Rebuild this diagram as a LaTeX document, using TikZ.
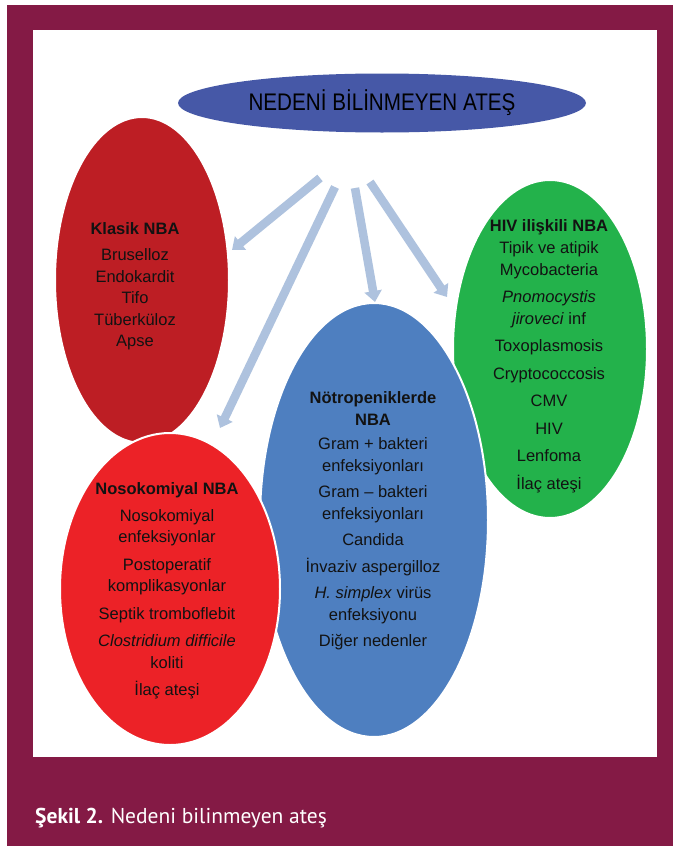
\documentclass[tikz,border=0pt]{standalone}
\usepackage{fontspec}
\setmainfont{Liberation Sans}
\newfontfamily\titlefont[FakeStretch=0.86]{Liberation Sans}
\newfontfamily\capfont{PT Sans}
\usetikzlibrary{arrows.meta,shapes.geometric}
\definecolor{framecol}{HTML}{841A45}
\definecolor{topcol}{HTML}{4658A7}
\definecolor{klasikcol}{HTML}{BD1E24}
\definecolor{nosocol}{HTML}{EC2227}
\definecolor{neutrocol}{HTML}{4E7FC0}
\definecolor{hivcol}{HTML}{23B24B}
\definecolor{arrowcol}{HTML}{AEC2DE}
\tikzset{
  blob/.style={ellipse, draw=white, line width=2pt, inner sep=0pt},
  blobtext/.style={align=center, inner sep=0pt, text=black!93,
    font=\fontsize{16.5}{21.5}\selectfont},
  feed/.style={draw=arrowcol, line width=8.5pt,
    -{Triangle[width=17pt,length=11pt]}}
}
\begin{document}
\begin{tikzpicture}[x=1pt,y=-1pt]
\useasboundingbox (0,0) rectangle (673,846);
% page, frame and inner panel
\fill[white] (0,0) rectangle (673,846);
\fill[framecol] (7,5) rectangle (673,846);
\fill[white] (33,30) rectangle (657,757);

% category ellipses (back to front)
\node[blob, fill=hivcol, minimum width=194pt, minimum height=338pt] (hiv) at (550,349) {};
\node[blob, fill=klasikcol, minimum width=174pt, minimum height=326pt] (klasik) at (142,280) {};
\node[blob, fill=neutrocol, minimum width=228pt, minimum height=434pt] (neutro) at (374,520) {};
\node[blob, fill=nosocol, minimum width=220pt, minimum height=312pt] (noso) at (170,589) {};

% category contents
\node[blobtext] (klasikT) at (135,286) {\textbf{Klasik NBA}\\[5pt]
  Bruselloz\\ Endokardit\\ Tifo\\ Tüberküloz\\ Apse};
\node[blobtext] (nosoT) at (167,591) {\textbf{Nosokomiyal NBA}\\[5pt]
  Nosokomiyal\\ enfeksiyonlar\\[6pt]
  Postoperatif\\ komplikasyonlar\\[6pt]
  Septik tromboflebit\\[6pt]
  \textit{Clostridium difficile}\\ koliti\\[6pt]
  İlaç ateşi};
\node[blobtext] (neutroT) at (373,521) {\textbf{Nötropeniklerde}\\ \textbf{NBA}\\[3pt]
  Gram + bakteri\\ enfeksiyonları\\[5pt]
  Gram – bakteri\\ enfeksiyonları\\[5pt]
  Candida\\[5pt]
  İnvaziv aspergilloz\\[5pt]
  \textit{H. simplex} virüs\\ enfeksiyonu\\[5pt]
  Diğer nedenler};
\node[blobtext] (hivT) at (549,356) {\textbf{HIV ilişkili NBA}\\[1pt]
  Tipik ve atipik\\ Mycobacteria\\[6pt]
  \textit{Pnomocystis}\\ \textit{jiroveci} inf\\[6pt]
  Toxoplasmosis\\[6pt]
  Cryptococcosis\\[6pt]
  CMV\\[6pt]
  HIV\\[6pt]
  Lenfoma\\[6pt]
  İlaç ateşi};

% arrow ends
\coordinate (s1) at (320,178); \coordinate (t1) at (232,250);
\coordinate (s2) at (335,187); \coordinate (t2) at (220,428);
\coordinate (s3) at (355,188); \coordinate (t3) at (375,302);
\coordinate (s4) at (370,182); \coordinate (t4) at (447,297);
\draw[feed] (s1) -- (t1);
\draw[feed] (s2) -- (t2);
\draw[feed] (s3) -- (t3);
\draw[feed] (s4) -- (t4);

% heading ellipse
\node[ellipse, fill=topcol, inner sep=0pt, minimum width=408pt, minimum height=59pt,
  font=\titlefont\fontsize{24}{26}\selectfont, text=black] (top) at (382,103)
  {NEDENİ BİLİNMEYEN ATEŞ};

% caption
\node[anchor=base west, inner sep=0pt, text=white,
  font=\capfont\fontsize{21.5}{24}\selectfont] (caption) at (35,823)
  {\textbf{Şekil 2.} Nedeni bilinmeyen ateş};
\end{tikzpicture}
\end{document}
